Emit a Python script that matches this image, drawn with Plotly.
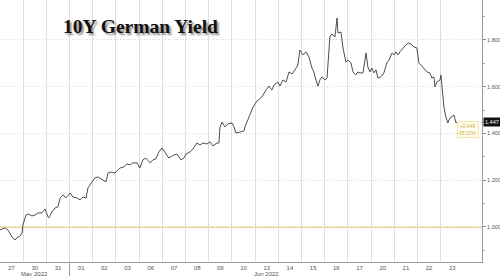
import plotly.graph_objects as go

# trading-day position (0 = start of 27 May) and yield (%)
t = [0.00, 0.22, 0.34, 0.52, 0.65, 0.73, 0.86, 0.95, 0.99, 1.12, 1.21, 1.38, 1.51, 1.64, 1.81, 1.94,
     2.07, 2.11, 2.24, 2.37, 2.50, 2.59, 2.72, 2.84, 3.02, 3.15, 3.32, 3.45, 3.58, 3.71, 3.79, 3.92,
     4.09, 4.22, 4.40, 4.57, 4.66, 4.78, 4.96, 5.09, 5.17, 5.34, 5.47, 5.60, 5.73, 5.91, 6.03, 6.16,
     6.29, 6.47, 6.59, 6.72, 6.85, 6.98, 7.11, 7.28, 7.50, 7.63, 7.80, 7.93, 8.02, 8.19, 8.32, 8.49,
     8.62, 8.75, 8.92, 9.05, 9.18, 9.35, 9.44, 9.48, 9.57, 9.70, 9.83, 10.00, 10.09, 10.17, 10.34,
     10.52, 10.56, 10.69, 10.91, 11.08, 11.29, 11.47, 11.59, 11.72, 11.81, 11.98, 12.07, 12.20, 12.33,
     12.46, 12.59, 12.72, 12.84, 12.93, 13.06, 13.19, 13.32, 13.45, 13.53, 13.62, 13.71, 13.79, 13.88,
     14.01, 14.10, 14.22, 14.31, 14.44, 14.53, 14.57, 14.70, 14.78, 14.91, 15.00, 15.13, 15.22, 15.34,
     15.43, 15.52, 15.65, 15.78, 15.86, 15.95, 16.03, 16.12, 16.21, 16.29, 16.42, 16.55, 16.68, 16.77,
     16.90, 16.98, 17.07, 17.16, 17.24, 17.37, 17.50, 17.63, 17.76, 17.84, 17.97, 18.06, 18.23, 18.41,
     18.53, 18.62, 18.71, 18.75, 18.84, 18.97, 19.01, 19.05, 19.14, 19.22, 19.31, 19.40, 19.48, 19.57,
     19.66, 19.70]
yld = [0.987, 0.996, 0.987, 0.957, 0.944, 0.953, 0.961, 0.974, 1.009, 1.051, 1.056, 1.047, 1.051, 1.060, 1.060, 1.077,
       1.043, 1.039, 1.064, 1.081, 1.086, 1.124, 1.137, 1.124, 1.145, 1.128, 1.124, 1.116, 1.128, 1.124, 1.167, 1.188,
       1.210, 1.214, 1.205, 1.193, 1.231, 1.235, 1.231, 1.244, 1.252, 1.257, 1.270, 1.265, 1.274, 1.274, 1.252, 1.287,
       1.295, 1.274, 1.287, 1.291, 1.321, 1.338, 1.317, 1.295, 1.308, 1.312, 1.287, 1.295, 1.312, 1.321, 1.334, 1.359,
       1.351, 1.359, 1.355, 1.364, 1.347, 1.359, 1.359, 1.424, 1.449, 1.428, 1.441, 1.445, 1.428, 1.402, 1.406,
       1.411, 1.428, 1.458, 1.513, 1.539, 1.556, 1.586, 1.603, 1.586, 1.607, 1.620, 1.603, 1.629, 1.620,
       1.663, 1.655, 1.672, 1.693, 1.757, 1.736, 1.749, 1.727, 1.680, 1.663, 1.629, 1.603, 1.629, 1.642,
       1.629, 1.637, 1.813, 1.826, 1.813, 1.894, 1.830, 1.834, 1.770, 1.706, 1.714, 1.702, 1.663, 1.650,
       1.663, 1.659, 1.659, 1.744, 1.684, 1.663, 1.680, 1.659, 1.672, 1.637, 1.642, 1.659, 1.702, 1.714,
       1.744, 1.736, 1.749, 1.736, 1.749, 1.766, 1.779, 1.787, 1.779, 1.770, 1.766, 1.702, 1.684, 1.663,
       1.659, 1.637, 1.642, 1.599, 1.620, 1.629, 1.650, 1.599, 1.513, 1.471, 1.445, 1.466, 1.471, 1.479,
       1.445, 1.447]

day_labels = ["27", "30", "31", "01", "02", "03", "06", "07", "08", "09", "10",
              "13", "14", "15", "16", "17", "20", "21", "22", "23"]
month_labels = [("May 2022", 1), ("Jun 2022", 11)]
month_break = 3
y_ticks = [1.0, 1.2, 1.4, 1.6, 1.8]
y_minor = [0.9, 1.1, 1.3, 1.5, 1.7, 1.9]
ref_level = 0.998
last_val = 1.447
chg_text = "+0.449<br>45.02%"

x_max = 20.78
fig = go.Figure()
fig.add_trace(go.Scatter(x=t, y=yld, mode="lines",
                         line=dict(color="#3a3a3a", width=0.9), hoverinfo="skip"))

fig.update_layout(
    width=500, height=276,
    margin=dict(l=0, r=18, t=0, b=14),
    paper_bgcolor="white", plot_bgcolor="white",
    showlegend=False,
    xaxis=dict(
        range=[0, x_max],
        tickmode="array",
        tickvals=[i + 0.5 for i in range(len(day_labels))],
        ticktext=day_labels,
        ticks="", showgrid=False, zeroline=False,
        showline=True, linecolor="#999999", linewidth=1,
        tickfont=dict(family="Liberation Sans", size=6, color="#555555"),
        minor=dict(tickmode="array", tickvals=list(range(1, len(day_labels))),
                   showgrid=True, gridcolor="#dedede", gridwidth=1, ticks=""),
    ),
    yaxis=dict(
        range=[0.85, 1.971],
        side="right",
        tickmode="array",
        tickvals=y_ticks,
        ticktext=[f"{v:.3f}" for v in y_ticks],
        ticks="outside", ticklen=3, tickcolor="#888888",
        showgrid=True, gridcolor="#d4d4d4", griddash="1px,2px", gridwidth=1,
        zeroline=False,
        showline=True, linecolor="#999999", linewidth=1,
        tickfont=dict(family="Liberation Sans", size=5.5, color="#555555"),
        minor=dict(tickmode="array", tickvals=y_minor, ticks="outside",
                   ticklen=2, tickcolor="#aaaaaa", showgrid=False),
    ),
)

# reference level line
fig.add_shape(type="line", xref="x", yref="y", x0=0, x1=x_max, y0=ref_level, y1=ref_level,
              line=dict(color="#e3d987", width=1.2), layer="below")
# dotted line from last value to axis
fig.add_shape(type="line", xref="x", yref="y", x0=t[-1], x1=x_max, y0=last_val, y1=last_val,
              line=dict(color="#999999", width=1, dash="1px,2px"), layer="below")
# month separator
fig.add_shape(type="line", xref="x", yref="paper", x0=month_break, x1=month_break,
              y0=0, y1=-0.06, line=dict(color="#999999", width=1))

for txt, i in month_labels:
    fig.add_annotation(x=i + 0.5, xref="x", y=0, yref="paper", yanchor="top", yshift=-7,
                       text=txt, showarrow=False,
                       font=dict(family="Liberation Sans", size=6, color="#555555"))

# last value box
fig.add_annotation(x=1, xref="paper", xanchor="left", xshift=1, y=last_val, yref="y",
                   text=f"{last_val:.3f}", showarrow=False, bgcolor="#111111", borderpad=1,
                   font=dict(family="Liberation Sans", size=5.5, color="white"))
# change box
fig.add_annotation(x=20.17, xref="x", y=1.417, yref="y", text=chg_text, showarrow=False,
                   bgcolor="#fffcec", bordercolor="#efe6b0", borderwidth=1, borderpad=1,
                   font=dict(family="Liberation Sans", size=5, color="#d9ad4a"))

# title
fig.add_annotation(x=140 / 482, xref="paper", y=0.90, yref="paper", text="<b>10Y German Yield</b>",
                   showarrow=False, xanchor="center", yanchor="middle",
                   font=dict(family="Liberation Serif", size=19.5, color="#111111",
                             shadow="2px 2px 2px #8a8a8a"))

fig.write_html("out.html")
